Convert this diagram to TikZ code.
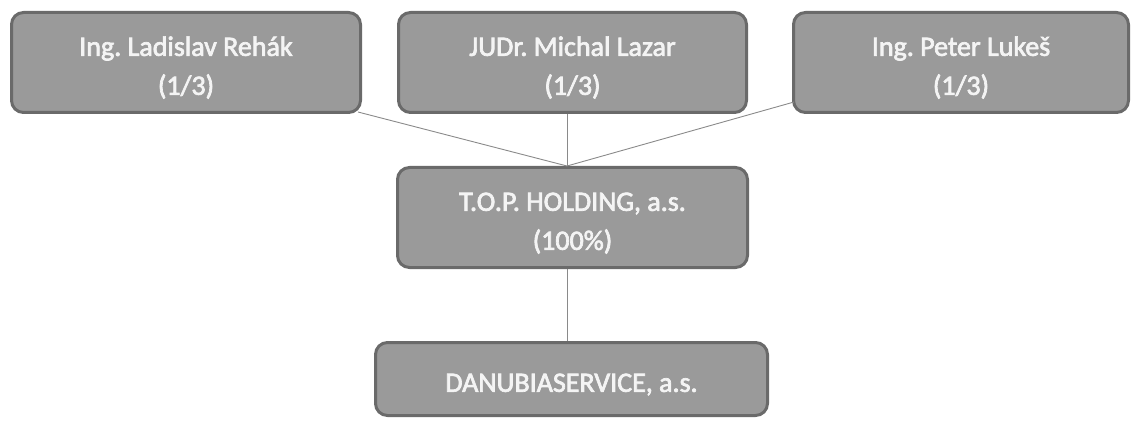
\documentclass[tikz,border=0pt]{standalone}
\usepackage{fontspec}
\setmainfont{Carlito}
\newfontfamily\boxfont[FakeBold=2.5]{Carlito}
\frenchspacing
\definecolor{boxfill}{HTML}{9A9A9A}
\definecolor{boxedge}{HTML}{6A6A6A}
\definecolor{linkcol}{HTML}{8A8A8A}
\definecolor{boxtext}{HTML}{F4F4F4}
\newcommand\boxlines[1]{\raisebox{-5pt}[\height][\depth]{\begin{tabular}{@{}c@{}}#1\end{tabular}}}
\begin{document}
\begin{tikzpicture}[x=1pt,y=-1pt,
  orgbox/.style={draw=boxedge,fill=boxfill,line width=3pt,rounded corners=12pt,
    text=boxtext,font=\boxfont\fontsize{28}{39}\selectfont\frenchspacing,inner sep=0pt},
  link/.style={draw=linkcol,line width=0.9pt}]
\useasboundingbox (0,0) rectangle (1131,422);
\node[orgbox,minimum width=349pt,minimum height=100pt] (reh) at (186,62.5) {\boxlines{Ing. Ladislav Rehák\\(1/3)}};
\node[orgbox,minimum width=348pt,minimum height=100pt] (laz) at (572.5,62.5) {\boxlines{JUDr. Michal Lazar\\(1/3)}};
\node[orgbox,minimum width=335pt,minimum height=100pt] (luk) at (961,62.5) {\boxlines{Ing. Peter Lukeš\\(1/3)}};
\node[orgbox,minimum width=350pt,minimum height=100pt] (top) at (572.5,217.5) {\boxlines{T.O.P. HOLDING, a.s.\\(100\%)}};
\node[orgbox,minimum width=392pt,minimum height=73pt] (dan) at (571.5,379) {\boxlines{DANUBIASERVICE, a.s.}};
\coordinate (meet) at (567,166);
\draw[link] (reh.south east) ++(-4,-2) coordinate (rehc) -- (meet);
\draw[link] (luk.south west) ++(2,-12) coordinate (lukc) -- (meet);
\draw[link] (laz.south -| meet) -- (meet);
\draw[link] (top.south -| meet) -- (dan.north -| meet);
\end{tikzpicture}
\end{document}
